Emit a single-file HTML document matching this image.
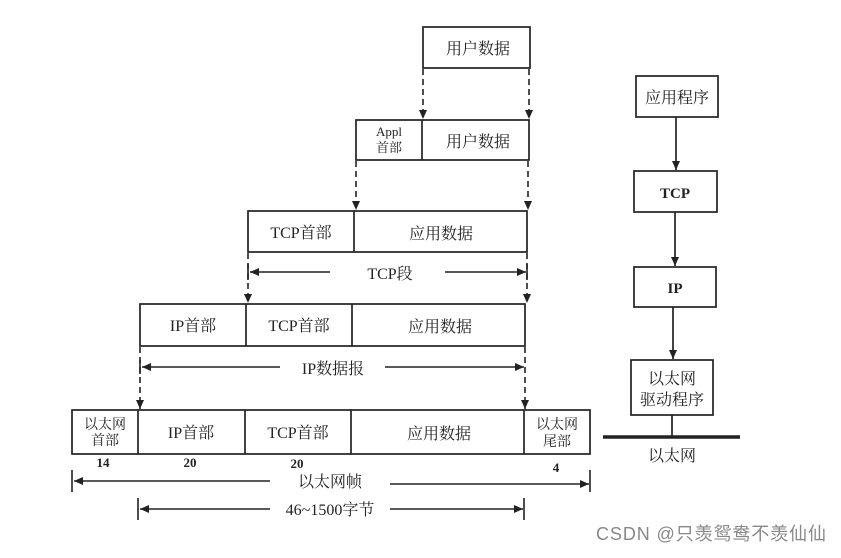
<!DOCTYPE html>
<html><head><meta charset="utf-8"><style>
html,body{margin:0;padding:0;background:#fff;}
svg text{font-family:"Liberation Serif","Noto Serif CJK SC","Noto Sans CJK SC",serif;fill:#222;}
</style></head><body>
<svg width="841" height="553" viewBox="0 0 841 553" xmlns="http://www.w3.org/2000/svg">
<defs>
<marker id="a" markerWidth="10" markerHeight="10" refX="9" refY="4" orient="auto" markerUnits="userSpaceOnUse"><path d="M0,0 L9,4 L0,8 z" fill="#222"/></marker>
</defs>
<g stroke="#222" stroke-width="1.7" fill="none">
<rect x="423" y="27" width="107" height="41"/>
<rect x="356" y="120" width="173" height="40"/><line x1="422" y1="120" x2="422" y2="160"/>
<rect x="248" y="211" width="279" height="41"/><line x1="354" y1="211" x2="354" y2="252"/>
<rect x="140" y="304" width="385" height="42"/><line x1="246" y1="304" x2="246" y2="346"/><line x1="352" y1="304" x2="352" y2="346"/>
<rect x="72" y="410" width="518" height="44"/><line x1="138" y1="410" x2="138" y2="454"/><line x1="245" y1="410" x2="245" y2="454"/><line x1="351" y1="410" x2="351" y2="454"/><line x1="524" y1="410" x2="524" y2="454"/>
</g>
<g stroke="#222" stroke-width="1.6" stroke-dasharray="6,4" fill="none" marker-end="url(#a)">
<line x1="423" y1="69" x2="423" y2="119"/><line x1="529" y1="69" x2="529" y2="119"/>
<line x1="356" y1="161" x2="356" y2="210"/><line x1="528" y1="161" x2="528" y2="210"/>
<line x1="248" y1="253" x2="248" y2="303"/><line x1="527" y1="253" x2="527" y2="303"/>
<line x1="140" y1="347" x2="140" y2="409"/><line x1="525" y1="347" x2="525" y2="409"/>
</g>
<g stroke="#222" stroke-width="1.6" fill="none">
<line x1="248" y1="264" x2="248" y2="280"/><line x1="527" y1="264" x2="527" y2="280"/>
<line x1="250" y1="272" x2="330" y2="272" marker-end="url(#a)" transform="rotate(180 290 272)"/>
<line x1="445" y1="272" x2="526" y2="272" marker-end="url(#a)"/>
<line x1="140" y1="360" x2="140" y2="374"/>
<line x1="142" y1="367" x2="280" y2="367" marker-end="url(#a)" transform="rotate(180 211 367)"/>
<line x1="385" y1="367" x2="524" y2="367" marker-end="url(#a)"/>
<line x1="72" y1="470" x2="72" y2="492"/><line x1="590" y1="470" x2="590" y2="492"/>
<line x1="74" y1="481" x2="270" y2="481" marker-end="url(#a)" transform="rotate(180 172 481)"/>
<line x1="390" y1="484" x2="589" y2="484" marker-end="url(#a)"/>
<line x1="138" y1="498" x2="138" y2="520"/><line x1="524" y1="498" x2="524" y2="520"/>
<line x1="140" y1="509" x2="270" y2="509" marker-end="url(#a)" transform="rotate(180 205 509)"/>
<line x1="390" y1="509" x2="523" y2="509" marker-end="url(#a)"/>
</g>
<g font-size="16" text-anchor="middle">
<text x="478" y="54">用户数据</text>
<text x="389" y="136" font-size="13">Appl</text><text x="389" y="152" font-size="13">首部</text>
<text x="478" y="147">用户数据</text>
<text x="301" y="238">TCP首部</text><text x="441" y="239">应用数据</text>
<text x="390" y="279">TCP段</text>
<text x="193" y="331">IP首部</text><text x="299" y="331">TCP首部</text><text x="440" y="332">应用数据</text>
<text x="333" y="374">IP数据报</text>
<text x="105" y="429" font-size="14">以太网</text><text x="105" y="445" font-size="14">首部</text>
<text x="191" y="438">IP首部</text><text x="298" y="438">TCP首部</text><text x="439" y="439">应用数据</text>
<text x="557" y="429" font-size="14">以太网</text><text x="557" y="446" font-size="14">尾部</text>
<text x="103" y="467" font-size="13" font-weight="bold">14</text>
<text x="190" y="467" font-size="13" font-weight="bold">20</text>
<text x="297" y="468" font-size="13" font-weight="bold">20</text>
<text x="556" y="472" font-size="13" font-weight="bold">4</text>
<text x="330" y="487">以太网帧</text>
<text x="330" y="515">46~1500字节</text>
</g>
<g stroke="#222" stroke-width="1.7" fill="none">
<rect x="636" y="76" width="82" height="41"/>
<rect x="634" y="171" width="83" height="41"/>
<rect x="634" y="267" width="82" height="40"/>
<rect x="631" y="360" width="82" height="55"/>
<line x1="676" y1="117" x2="676" y2="170" marker-end="url(#a)"/>
<line x1="675" y1="212" x2="675" y2="266" marker-end="url(#a)"/>
<line x1="673" y1="307" x2="673" y2="359" marker-end="url(#a)"/>
<line x1="672" y1="415" x2="672" y2="437"/>
<line x1="603" y1="437" x2="740" y2="437" stroke-width="3.5"/>
</g>
<g font-size="16" text-anchor="middle">
<text x="677" y="103">应用程序</text>
<text x="675" y="198" font-weight="bold" font-size="15">TCP</text>
<text x="675" y="293" font-weight="bold" font-size="15">IP</text>
<text x="672" y="384">以太网</text><text x="672" y="405">驱动程序</text>
<text x="672" y="461">以太网</text>
</g>
<text x="596" y="540" font-size="18" textLength="230" style="font-family:'Liberation Sans','Noto Sans CJK SC',sans-serif;fill:#888">CSDN @只羡鸳鸯不羡仙仙</text>
</svg>
</body></html>
